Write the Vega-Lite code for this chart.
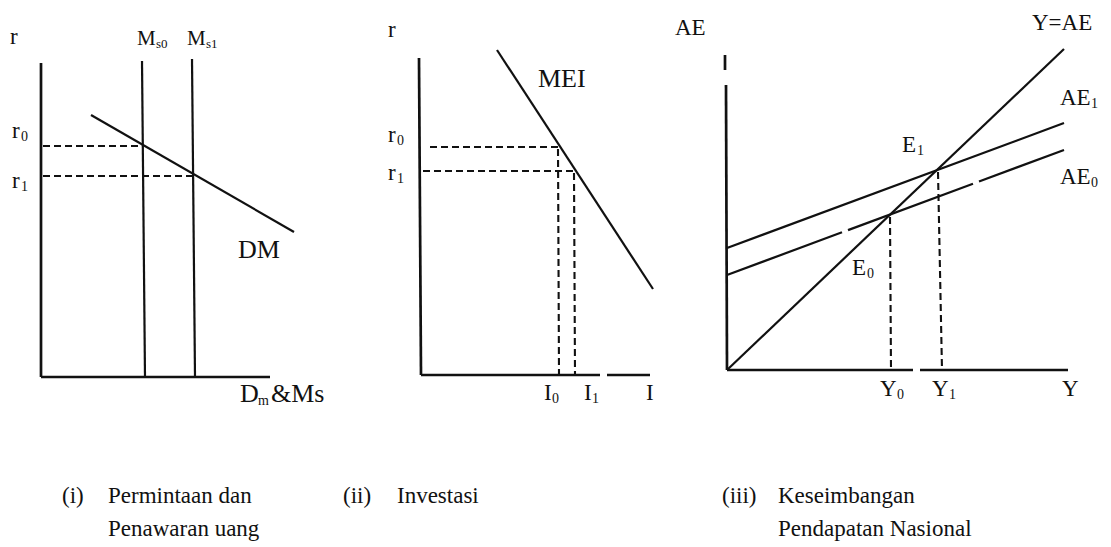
{
  "$schema": "https://vega.github.io/schema/vega-lite/v6.json",
  "width": 1111,
  "height": 547,
  "autosize": {"type": "fit", "contains": "padding"},
  "padding": 0,
  "background": "white",
  "config": {"view": {"stroke": null}},
  "datasets": {
    "segments": [
      {"panel": "i", "kind": "axis", "x": 41, "y": 63, "x2": 41, "y2": 377},
      {"panel": "i", "kind": "axis", "x": 41, "y": 377, "x2": 270, "y2": 377},
      {"panel": "i", "kind": "solid", "name": "Ms0", "x": 142, "y": 61, "x2": 145, "y2": 377},
      {"panel": "i", "kind": "solid", "name": "Ms1", "x": 192, "y": 59, "x2": 195, "y2": 377},
      {"panel": "i", "kind": "solid", "name": "DM", "x": 91, "y": 115, "x2": 294, "y2": 232},
      {"panel": "i", "kind": "dash", "name": "r0", "x": 43, "y": 146, "x2": 143, "y2": 146},
      {"panel": "i", "kind": "dash", "name": "r1", "x": 43, "y": 176, "x2": 193, "y2": 176},

      {"panel": "ii", "kind": "axis", "x": 419, "y": 58, "x2": 421, "y2": 375},
      {"panel": "ii", "kind": "axis", "x": 421, "y": 375, "x2": 600, "y2": 375},
      {"panel": "ii", "kind": "axis", "x": 607, "y": 375, "x2": 650, "y2": 375},
      {"panel": "ii", "kind": "solid", "name": "MEI", "x": 497, "y": 50, "x2": 653, "y2": 289},
      {"panel": "ii", "kind": "dash", "name": "r0", "x": 430, "y": 147, "x2": 559, "y2": 147},
      {"panel": "ii", "kind": "dash", "name": "r1", "x": 423, "y": 171, "x2": 575, "y2": 171},
      {"panel": "ii", "kind": "dash", "name": "I0", "x": 558, "y": 149, "x2": 559, "y2": 375},
      {"panel": "ii", "kind": "dash", "name": "I1", "x": 574, "y": 173, "x2": 575, "y2": 375},

      {"panel": "iii", "kind": "axis", "x": 725, "y": 55, "x2": 725, "y2": 70},
      {"panel": "iii", "kind": "axis", "x": 726, "y": 85, "x2": 727, "y2": 370},
      {"panel": "iii", "kind": "axis", "x": 727, "y": 370, "x2": 913, "y2": 370},
      {"panel": "iii", "kind": "axis", "x": 920, "y": 370, "x2": 1068, "y2": 370},
      {"panel": "iii", "kind": "solid", "name": "Y=AE", "x": 727, "y": 370, "x2": 1064, "y2": 49},
      {"panel": "iii", "kind": "solid", "name": "AE1", "x": 727, "y": 248, "x2": 1064, "y2": 123},
      {"panel": "iii", "kind": "solid", "name": "AE0", "x": 727, "y": 275, "x2": 842, "y2": 232.3},
      {"panel": "iii", "kind": "solid", "name": "AE0", "x": 848, "y": 230.1, "x2": 973, "y2": 183.8},
      {"panel": "iii", "kind": "solid", "name": "AE0", "x": 979, "y": 181.5, "x2": 1064, "y2": 150},
      {"panel": "iii", "kind": "dash", "name": "Y0", "x": 890, "y": 217, "x2": 891, "y2": 370},
      {"panel": "iii", "kind": "dash", "name": "Y1", "x": 938, "y": 172, "x2": 942, "y2": 370}
    ],
    "labels": [
      {"role": "main", "x": 10, "y": 44, "text": "r"},
      {"role": "ms", "x": 137, "y": 45, "text": "M"},
      {"role": "mssub", "x": 156, "y": 48, "text": "s0"},
      {"role": "ms", "x": 187, "y": 45, "text": "M"},
      {"role": "mssub", "x": 206, "y": 48, "text": "s1"},
      {"role": "main", "x": 12, "y": 138, "text": "r"},
      {"role": "sub", "x": 21, "y": 141, "text": "0"},
      {"role": "main", "x": 12, "y": 188, "text": "r"},
      {"role": "sub", "x": 21, "y": 191, "text": "1"},
      {"role": "large", "x": 238, "y": 258, "text": "DM"},
      {"role": "large", "x": 240, "y": 402, "text": "D"},
      {"role": "sub", "x": 258, "y": 405, "text": "m"},
      {"role": "large", "x": 271, "y": 402, "text": "&Ms"},

      {"role": "main", "x": 388, "y": 37, "text": "r"},
      {"role": "large", "x": 538, "y": 87, "text": "MEI"},
      {"role": "main", "x": 388, "y": 142, "text": "r"},
      {"role": "sub", "x": 397, "y": 145, "text": "0"},
      {"role": "main", "x": 388, "y": 180, "text": "r"},
      {"role": "sub", "x": 397, "y": 183, "text": "1"},
      {"role": "main", "x": 544, "y": 400, "text": "I"},
      {"role": "sub", "x": 552, "y": 403, "text": "0"},
      {"role": "main", "x": 584, "y": 400, "text": "I"},
      {"role": "sub", "x": 592, "y": 403, "text": "1"},
      {"role": "main", "x": 646, "y": 400, "text": "I"},

      {"role": "main", "x": 675, "y": 35, "text": "AE"},
      {"role": "main", "x": 1032, "y": 30, "text": "Y=AE"},
      {"role": "main", "x": 1060, "y": 105, "text": "AE"},
      {"role": "sub", "x": 1091, "y": 108, "text": "1"},
      {"role": "main", "x": 1060, "y": 184, "text": "AE"},
      {"role": "sub", "x": 1091, "y": 187, "text": "0"},
      {"role": "main", "x": 902, "y": 152, "text": "E"},
      {"role": "sub", "x": 917, "y": 155, "text": "1"},
      {"role": "main", "x": 852, "y": 275, "text": "E"},
      {"role": "sub", "x": 867, "y": 278, "text": "0"},
      {"role": "main", "x": 880, "y": 396, "text": "Y"},
      {"role": "sub", "x": 897, "y": 399, "text": "0"},
      {"role": "main", "x": 932, "y": 396, "text": "Y"},
      {"role": "sub", "x": 949, "y": 399, "text": "1"},
      {"role": "main", "x": 1062, "y": 396, "text": "Y"},

      {"role": "caption", "x": 62, "y": 503, "text": "(i)"},
      {"role": "caption", "x": 108, "y": 503, "text": "Permintaan dan"},
      {"role": "caption", "x": 108, "y": 536, "text": "Penawaran uang"},
      {"role": "caption", "x": 343, "y": 503, "text": "(ii)"},
      {"role": "caption", "x": 397, "y": 503, "text": "Investasi"},
      {"role": "caption", "x": 722, "y": 503, "text": "(iii)"},
      {"role": "caption", "x": 778, "y": 503, "text": "Keseimbangan"},
      {"role": "caption", "x": 778, "y": 536, "text": "Pendapatan Nasional"}
    ]
  },
  "encoding": {
    "x": {"field": "x", "type": "quantitative", "scale": {"domain": [0, 1111], "nice": false, "zero": false}, "axis": null},
    "y": {"field": "y", "type": "quantitative", "scale": {"domain": [0, 547], "nice": false, "zero": false, "reverse": true}, "axis": null}
  },
  "layer": [
    {
      "data": {"name": "segments"},
      "transform": [{"filter": "datum.kind === 'axis'"}],
      "mark": {"type": "rule", "color": "#111", "strokeWidth": 2.7},
      "encoding": {"x2": {"field": "x2"}, "y2": {"field": "y2"}}
    },
    {
      "data": {"name": "segments"},
      "transform": [{"filter": "datum.kind === 'solid'"}],
      "mark": {"type": "rule", "color": "#111", "strokeWidth": 2.2},
      "encoding": {"x2": {"field": "x2"}, "y2": {"field": "y2"}}
    },
    {
      "data": {"name": "segments"},
      "transform": [{"filter": "datum.kind === 'dash'"}],
      "mark": {"type": "rule", "color": "#111", "strokeWidth": 2.1, "strokeDash": [7, 4]},
      "encoding": {"x2": {"field": "x2"}, "y2": {"field": "y2"}}
    },
    {
      "data": {"name": "labels"},
      "transform": [{"filter": "datum.role === 'main'"}],
      "mark": {"type": "text", "font": "Liberation Serif", "fontSize": 23, "align": "left", "baseline": "alphabetic", "color": "#111"},
      "encoding": {"text": {"field": "text"}}
    },
    {
      "data": {"name": "labels"},
      "transform": [{"filter": "datum.role === 'caption'"}],
      "mark": {"type": "text", "font": "Liberation Serif", "fontSize": 23, "align": "left", "baseline": "alphabetic", "color": "#111"},
      "encoding": {"text": {"field": "text"}}
    },
    {
      "data": {"name": "labels"},
      "transform": [{"filter": "datum.role === 'large'"}],
      "mark": {"type": "text", "font": "Liberation Serif", "fontSize": 26, "align": "left", "baseline": "alphabetic", "color": "#111"},
      "encoding": {"text": {"field": "text"}}
    },
    {
      "data": {"name": "labels"},
      "transform": [{"filter": "datum.role === 'ms'"}],
      "mark": {"type": "text", "font": "Liberation Serif", "fontSize": 21, "align": "left", "baseline": "alphabetic", "color": "#111"},
      "encoding": {"text": {"field": "text"}}
    },
    {
      "data": {"name": "labels"},
      "transform": [{"filter": "datum.role === 'sub'"}],
      "mark": {"type": "text", "font": "Liberation Serif", "fontSize": 14, "align": "left", "baseline": "alphabetic", "color": "#111"},
      "encoding": {"text": {"field": "text"}}
    },
    {
      "data": {"name": "labels"},
      "transform": [{"filter": "datum.role === 'mssub'"}],
      "mark": {"type": "text", "font": "Liberation Serif", "fontSize": 13, "align": "left", "baseline": "alphabetic", "color": "#111"},
      "encoding": {"text": {"field": "text"}}
    }
  ]
}
